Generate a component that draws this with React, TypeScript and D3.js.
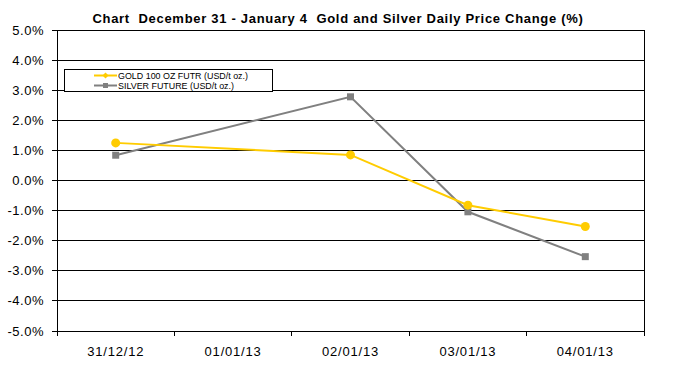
import React from 'react';
import * as d3 from 'd3';

const dates = ['31/12/12', '01/01/13', '02/01/13', '03/01/13', '04/01/13'];
const goldValues: (number | null)[] = [1.25, null, 0.85, -0.82, -1.53];
const silverValues: (number | null)[] = [0.84, null, 2.78, -1.04, -2.53];
const yTicks = [5, 4, 3, 2, 1, 0, -1, -2, -3, -4, -5];
const goldLabel = 'GOLD 100 OZ FUTR (USD/t oz.)';
const silverLabel = 'SILVER FUTURE (USD/t oz.)';
const title = 'Chart  December 31 - January 4  Gold and Silver Daily Price Change (%)';

const W = 681;
const H = 369;
const margin = { top: 30, right: 37, bottom: 38, left: 57 };
const GOLD = '#FFCC00';
const SILVER = '#808080';

const App: React.FC = () => {
  const x = d3
    .scaleBand<string>()
    .domain(dates)
    .range([margin.left, W - margin.right]);

  const y = d3
    .scaleLinear()
    .domain([-5, 5])
    .range([H - margin.bottom, margin.top]);

  const cx = (d: string) => (x(d) ?? 0) + x.bandwidth() / 2;

  const pts = (vals: (number | null)[]) =>
    dates
      .map((d, i) => ({ d, v: vals[i] }))
      .filter((p) => p.v !== null) as { d: string; v: number }[];

  const line = d3
    .line<{ d: string; v: number }>()
    .x((p) => cx(p.d))
    .y((p) => y(p.v));

  const gold = pts(goldValues);
  const silver = pts(silverValues);
  const font = '"Liberation Sans", Arial, sans-serif';
  const x0 = margin.left;
  const x1 = W - margin.right;
  const yBottom = H - margin.bottom;

  return (
    <svg width={W} height={H} style={{ display: 'block', position: 'absolute', left: 0, top: 0, background: '#fff' }} fontFamily={font}>
      <rect width={W} height={H} fill="#fff" />
      <text x={338} y={23} textAnchor="middle" fontSize={13} letterSpacing={0.7} fontWeight="bold" fill="#000" style={{ whiteSpace: 'pre' }}>
        {title}
      </text>

      {/* gridlines */}
      {yTicks.map((t) => (
        <line key={t} x1={x0 - 5} x2={x1} y1={y(t)} y2={y(t)} stroke="#000" strokeWidth={1} shapeRendering="crispEdges" />
      ))}
      {yTicks.map((t) => (
        <text key={'l' + t} x={x0 - 13} y={y(t) + 4.5} textAnchor="end" fontSize={13} letterSpacing={0.5} fill="#000">
          {t.toFixed(1) + '%'}
        </text>
      ))}

      {/* axes frame */}
      <line x1={x0} x2={x0} y1={y(5)} y2={yBottom} stroke="#000" shapeRendering="crispEdges" />
      <line x1={x1} x2={x1} y1={y(5)} y2={yBottom} stroke="#000" shapeRendering="crispEdges" />
      {[...dates.map((d) => x(d) ?? 0), x1].map((v, i) => (
        <line key={'t' + i} x1={v} x2={v} y1={yBottom} y2={yBottom + 5} stroke="#000" shapeRendering="crispEdges" />
      ))}
      {dates.map((d) => (
        <text key={d} x={cx(d)} y={yBottom + 25} textAnchor="middle" fontSize={13} letterSpacing={0.8} fill="#000">
          {d}
        </text>
      ))}

      {/* series */}
      <path d={line(silver) ?? ''} fill="none" stroke={SILVER} strokeWidth={2} />
      {silver.map((p) => (
        <rect key={'s' + p.d} x={cx(p.d) - 3.5} y={y(p.v) - 3.5} width={7} height={7} fill={SILVER} />
      ))}
      <path d={line(gold) ?? ''} fill="none" stroke={GOLD} strokeWidth={2} />
      {gold.map((p) => (
        <circle key={'g' + p.d} cx={cx(p.d)} cy={y(p.v)} r={4.5} fill={GOLD} />
      ))}

      {/* legend */}
      <rect x={64.5} y={69.5} width={208} height={22} fill="#fff" stroke="#000" strokeWidth={1} />
      <line x1={94} x2={117} y1={75.5} y2={75.5} stroke={GOLD} strokeWidth={2} />
      <path d="M105.5,72.5 L108.5,75.5 L105.5,78.5 L102.5,75.5 Z" fill={GOLD} />
      <text x={118} y={79} fontSize={9.5} textLength={130} lengthAdjust="spacingAndGlyphs" fill="#000">{goldLabel}</text>
      <line x1={94} x2={117} y1={85.5} y2={85.5} stroke={SILVER} strokeWidth={2} />
      <rect x={103} y={83} width={5} height={5} fill={SILVER} />
      <text x={118} y={89} fontSize={9.5} textLength={116} lengthAdjust="spacingAndGlyphs" fill="#000">{silverLabel}</text>
    </svg>
  );
};

export default App;
